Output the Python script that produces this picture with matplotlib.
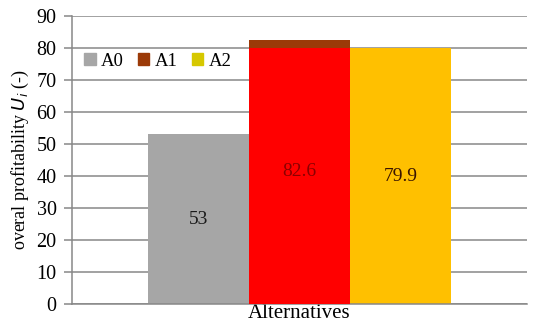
import matplotlib
matplotlib.use("Agg")
import matplotlib.pyplot as plt
from matplotlib.patches import Patch

# data
series = ["A0", "A1", "A2"]
values = [53, 82.6, 79.9]
labels = ["53", "82.6", "79.9"]
bar_colors = ["#a6a6a6", "#ff0000", "#ffc000"]
legend_colors = ["#a6a6a6", "#9b3a08", "#d6c800"]
label_colors = ["#1a1a1a", "#8b0000", "#3a1500"]
a1_overlay = 80  # red over-painted part of A1 bar; brown shows above it

plt.rcParams["font.family"] = ["Liberation Serif", "DejaVu Serif"]

fig = plt.figure(figsize=(5.5, 3.33), dpi=100)
ax = fig.add_axes([72 / 550, 1 - 304 / 333, 455 / 550, 288 / 333])

width = 0.222
offsets = [-width, 0, width]

for i, (v, c) in enumerate(zip(values, bar_colors)):
    if i == 1:
        ax.bar(offsets[i], v, width=width, color=legend_colors[1], zorder=2)
        ax.bar(offsets[i], a1_overlay, width=width, color=c, zorder=3)
    else:
        ax.bar(offsets[i], v, width=width, color=c, zorder=2)
    ax.text(offsets[i], v / 2, labels[i], ha="center", va="center",
            fontsize=14, color=label_colors[i], zorder=4)

ax.set_xlim(-0.5, 0.5)
ax.set_ylim(0, 90)
ax.set_yticks(range(0, 91, 10))
ax.yaxis.grid(True, color="#878787", linewidth=1.1, zorder=0)
ax.set_axisbelow(True)
ax.set_xticks([])

for s in ["top", "right"]:
    ax.spines[s].set_visible(False)
ax.spines["left"].set_color("#878787")
ax.spines["bottom"].set_color("#878787")
ax.spines["left"].set_linewidth(1.1)
ax.spines["bottom"].set_linewidth(1.1)
ax.tick_params(axis="y", length=6, width=1.1, color="#878787",
               labelsize=14.5, pad=5)

ax.set_xlabel("Alternatives", fontsize=15, labelpad=0)
ax.set_ylabel("overal profitability $\\mathit{U}_{\\mathit{i}}$ (-)", fontsize=13, labelpad=4)

handles = [Patch(color=c, label=s) for s, c in zip(series, legend_colors)]
ax.legend(handles=handles, loc="upper left", ncol=3, frameon=False,
          fontsize=13.5, handlelength=0.6, handleheight=0.6, handletextpad=0.3,
          columnspacing=0.75, bbox_to_anchor=(-0.01, 0.93))

fig.savefig("out.png", dpi=100)
